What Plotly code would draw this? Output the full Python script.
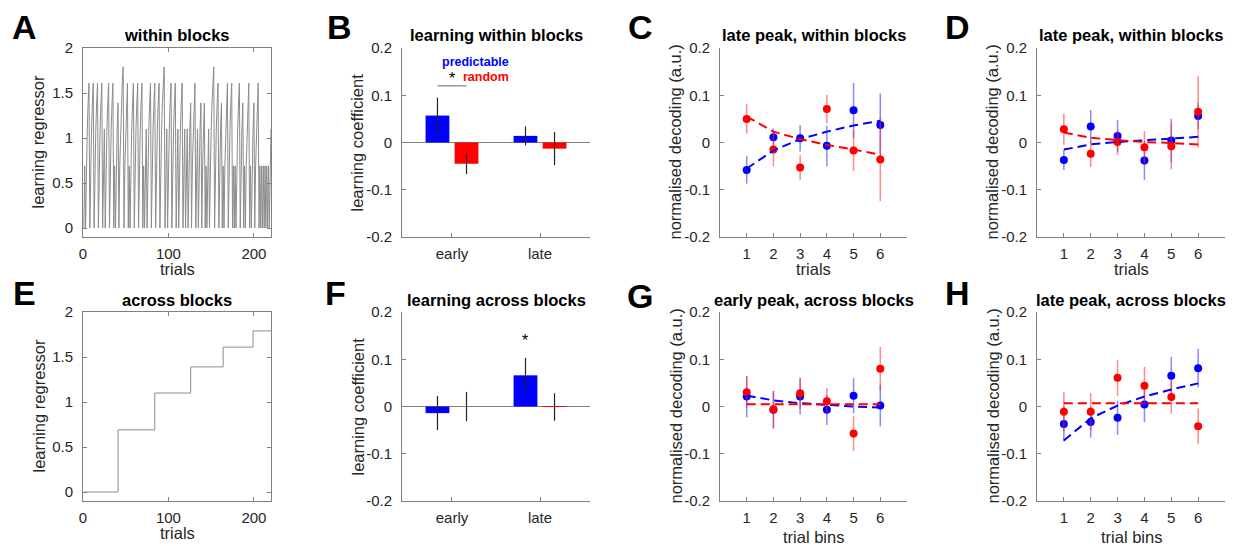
import plotly.graph_objects as go

W, H = 1233, 546
FONT = "Liberation Sans, Arial, sans-serif"
TXT = "#262626"
AXC = "#808080"
BLUE = "#0000FF"
RED = "#FF0000"
BLUE_E = "rgba(40,40,255,0.55)"
RED_E = "rgba(255,40,40,0.55)"

# ---------------- data ----------------
# Panel A: within-block learning regressor (level per position in mini-block, mini-block lengths)
levels = [0.0, 0.69, 1.10, 1.39, 1.61, 1.79]
run_lengths = [2, 5, 5, 5, 5, 3, 5, 5, 2, 4, 6, 5, 2, 5, 5, 5, 2, 3, 5, 5, 5, 6, 3, 5, 5, 3,
               5, 3, 3, 4, 5, 3, 4, 4, 2, 3, 6, 5, 4, 2, 5, 5, 2, 2, 5, 4, 2, 5, 2, 4, 5, 2,
               2, 2, 2, 2, 2, 3]
# Panel E: across-block regressor (block start trials)
block_starts = [1, 41, 84, 126, 164, 199]
last_trial = 220

# Panels B / F: learning coefficients
conds = ["early", "late"]
B_pred = [0.057, 0.014]
B_pred_sem = [0.038, 0.020]
B_rand = [-0.045, -0.013]
B_rand_sem = [0.022, 0.035]
F_pred = [-0.014, 0.066]
F_pred_sem = [0.036, 0.037]
F_rand = [0.0, -0.001]
F_rand_sem = [0.031, 0.029]

# Panels C, D, G, H: normalised decoding per bin
bins = [1, 2, 3, 4, 5, 6]
C_pred = [-0.058, 0.011, 0.009, -0.007, 0.068, 0.037]
C_pred_sem = [0.029, 0.019, 0.028, 0.043, 0.058, 0.067]
C_rand = [0.050, -0.015, -0.053, 0.071, -0.017, -0.036]
C_rand_sem = [0.031, 0.036, 0.026, 0.030, 0.043, 0.088]
C_pred_fit = [-0.055, -0.017, 0.007, 0.023, 0.036, 0.046]
C_rand_fit = [0.055, 0.023, 0.007, -0.005, -0.015, -0.026]

D_pred = [-0.037, 0.034, 0.014, -0.038, 0.004, 0.056]
D_pred_sem = [0.021, 0.035, 0.034, 0.041, 0.046, 0.028]
D_rand = [0.028, -0.024, 0.001, -0.010, -0.008, 0.065]
D_rand_sem = [0.033, 0.028, 0.027, 0.034, 0.049, 0.076]
D_pred_fit = [-0.015, -0.004, 0.001, 0.005, 0.008, 0.012]
D_rand_fit = [0.021, 0.010, 0.005, 0.001, -0.001, -0.004]

G_pred = [0.021, -0.007, 0.021, -0.007, 0.023, 0.002]
G_pred_sem = [0.044, 0.040, 0.038, 0.032, 0.037, 0.044]
G_rand = [0.030, -0.006, 0.028, 0.011, -0.057, 0.080]
G_rand_sem = [0.033, 0.039, 0.033, 0.028, 0.037, 0.046]
G_pred_fit = [0.023, 0.013, 0.007, 0.003, 0.000, -0.002]
G_rand_fit = [0.005, 0.005, 0.005, 0.005, 0.005, 0.005]

H_pred = [-0.037, -0.033, -0.024, 0.004, 0.065, 0.081]
H_pred_sem = [0.037, 0.033, 0.036, 0.037, 0.040, 0.041]
H_rand = [-0.011, -0.011, 0.061, 0.044, 0.020, -0.042]
H_rand_sem = [0.041, 0.039, 0.038, 0.040, 0.035, 0.038]
H_pred_fit = [-0.072, -0.025, 0.002, 0.021, 0.036, 0.049]
H_rand_fit = [0.007, 0.007, 0.007, 0.007, 0.007, 0.007]

coef_ticks = [-0.2, -0.1, 0, 0.1, 0.2]
coef_ticktext = ["-0.2", "-0.1", "0", "0.1", "0.2"]
reg_ticks = [0, 0.5, 1, 1.5, 2]
reg_ticktext = ["0", "0.5", "1", "1.5", "2"]
trial_ticks = [0, 100, 200]

# ---------------- derived series ----------------
within = []
for k in run_lengths:
    within += levels[:k]
trials = list(range(1, len(within) + 1))
across_x = block_starts + [last_trial]
across_y = levels + [levels[-1]]

# ---------------- layout geometry (pixels) ----------------
cols = [(83, 271), (402, 590), (720, 907), (1037, 1225)]
rows = [(48, 237), (312, 501)]


def xd(c):
    return [cols[c][0] / W, cols[c][1] / W]


def yd(r):
    return [1 - rows[r][1] / H, 1 - rows[r][0] / H]


fig = go.Figure()

panels = {1: (0, 0), 2: (0, 1), 3: (0, 2), 4: (0, 3), 5: (1, 0), 6: (1, 1), 7: (1, 2), 8: (1, 3)}


def axname(i, a):
    return a if i == 1 else f"{a}{i}"


base_font = dict(family=FONT, size=15, color=TXT)

for i, (r, c) in panels.items():
    box = c == 0
    xa = dict(domain=xd(c), anchor=axname(i, "y"), showline=True, linecolor=AXC, linewidth=1,
              ticks="inside", ticklen=4, tickcolor=AXC, showgrid=False, zeroline=False,
              tickfont=base_font, mirror="ticks" if box else False, ticklabelstandoff=3,
              automargin=False)
    ya = dict(domain=yd(r), anchor=axname(i, "x"), showline=True, linecolor=AXC, linewidth=1,
              ticks="inside", ticklen=4, tickcolor=AXC, showgrid=False, zeroline=False,
              tickfont=base_font, mirror="ticks" if box else False, ticklabelstandoff=6,
              automargin=False)
    if c == 0:
        xa.update(range=[0, 220], tickvals=trial_ticks)
        ya.update(range=[-0.1, 2], tickvals=reg_ticks, ticktext=reg_ticktext)
    elif c == 1:
        xa.update(range=[0.432, 2.568], tickvals=[1, 2], ticktext=conds)
        ya.update(range=[-0.2, 0.2], tickvals=coef_ticks, ticktext=coef_ticktext,
                  zeroline=True, zerolinecolor=AXC, zerolinewidth=1)
    else:
        xa.update(range=[0, 7], tickvals=bins)
        ya.update(range=[-0.2, 0.2], tickvals=coef_ticks, ticktext=coef_ticktext)
    fig.layout[axname(i, "xaxis")] = xa
    fig.layout[axname(i, "yaxis")] = ya


def ref(i):
    return dict(xaxis=axname(i, "x"), yaxis=axname(i, "y"))


# A
fig.add_trace(go.Scatter(x=trials, y=within, mode="lines", line=dict(color="#8c8c8c", width=1),
                         **ref(1)))
# E
fig.add_trace(go.Scatter(x=across_x, y=across_y, mode="lines", line=dict(color="#8c8c8c", width=1, shape="hv"),
                         **ref(5)))

# B, F bars
for i, pred, psem, rand, rsem in [(2, B_pred, B_pred_sem, B_rand, B_rand_sem),
                                  (6, F_pred, F_pred_sem, F_rand, F_rand_sem)]:
    fig.add_trace(go.Bar(x=[1, 2], y=pred, marker=dict(color=BLUE, line=dict(width=0)),
                         error_y=dict(type="data", array=psem, color="#222222", thickness=1.2, width=0),
                         **ref(i)))
    fig.add_trace(go.Bar(x=[1, 2], y=rand, marker=dict(color=RED, line=dict(width=0)),
                         error_y=dict(type="data", array=rsem, color="#222222", thickness=1.2, width=0),
                         **ref(i)))

# decoding panels
for i, pred, psem, rand, rsem, pfit, rfit in [
        (3, C_pred, C_pred_sem, C_rand, C_rand_sem, C_pred_fit, C_rand_fit),
        (4, D_pred, D_pred_sem, D_rand, D_rand_sem, D_pred_fit, D_rand_fit),
        (7, G_pred, G_pred_sem, G_rand, G_rand_sem, G_pred_fit, G_rand_fit),
        (8, H_pred, H_pred_sem, H_rand, H_rand_sem, H_pred_fit, H_rand_fit)]:
    fig.add_trace(go.Scatter(x=bins, y=pred, mode="markers", marker=dict(color=BLUE, size=8),
                             error_y=dict(type="data", array=psem, color=BLUE_E, thickness=1.5, width=0),
                             **ref(i)))
    fig.add_trace(go.Scatter(x=bins, y=rand, mode="markers", marker=dict(color=RED, size=8),
                             error_y=dict(type="data", array=rsem, color=RED_E, thickness=1.5, width=0),
                             **ref(i)))
    fig.add_trace(go.Scatter(x=bins, y=pfit, mode="lines",
                             line=dict(color=BLUE, width=2, dash="9px,5px"), **ref(i)))
    fig.add_trace(go.Scatter(x=bins, y=rfit, mode="lines",
                             line=dict(color=RED, width=2, dash="9px,5px"), **ref(i)))

# ---------------- annotations ----------------
ann = []


def pa(text, x, y, size=15, color=TXT, angle=0, xanchor="center", yanchor="middle"):
    ann.append(dict(text=text, x=x / W, y=1 - y / H, xref="paper", yref="paper", showarrow=False,
                    font=dict(family=FONT, size=size, color=color), textangle=angle,
                    xanchor=xanchor, yanchor=yanchor))


letters = [("A", 25, 27), ("B", 339, 27), ("C", 640, 27), ("D", 957, 27),
           ("E", 25, 293), ("F", 335, 293), ("G", 640, 296), ("H", 957, 293)]
for t, x, y in letters:
    pa(f"<b>{t}</b>", x, y, size=34, color="#000000")

titles = ["within blocks", "learning within blocks", "late peak, within blocks", "late peak, within blocks",
          "across blocks", "learning across blocks", "early peak, across blocks", "late peak, across blocks"]
for i, t in enumerate(titles):
    r, c = divmod(i, 4)
    cx = (cols[c][0] + cols[c][1]) / 2
    ty = 35 if r == 0 else 300
    pa(f"<b>{t}</b>", cx, ty, size=16.5, color="#000000")

ylabels = ["learning regressor", "learning coefficient", "normalised decoding (a.u.)", "normalised decoding (a.u.)"]
for r in range(2):
    for c in range(4):
        cy = (rows[r][0] + rows[r][1]) / 2
        pa(ylabels[c], cols[c][0] - 45, cy, size=16.5, angle=-90)

# x-axis titles: (row, col) -> (text, offset below axis in px)
xlabels = {(0, 0): ("trials", 32), (0, 2): ("trials", 32), (0, 3): ("trials", 32),
           (1, 0): ("trials", 32), (1, 2): ("trial bins", 36), (1, 3): ("trial bins", 36)}
for (r, c), (t, off) in xlabels.items():
    cx = (cols[c][0] + cols[c][1]) / 2
    pa(t, cx, rows[r][1] + off, size=16.5)

# significance marks
fig.add_shape(type="line", x0=1 - 0.165, x1=1 + 0.165, y0=0.12, y1=0.12, xref="x2", yref="y2",
              line=dict(color="#808080", width=1.2))
ann.append(dict(text="*", x=1, y=0.136, xref="x2", yref="y2", showarrow=False,
                font=dict(family=FONT, size=16, color="#000000"), yanchor="middle"))
ann.append(dict(text="<b>predictable</b>", x=1.67, y=0.171, xref="x2", yref="y2", showarrow=False,
                font=dict(family=FONT, size=12.5, color=BLUE), xanchor="right", yanchor="middle"))
ann.append(dict(text="<b>random</b>", x=1.67, y=0.138, xref="x2", yref="y2", showarrow=False,
                font=dict(family=FONT, size=12.5, color=RED), xanchor="right", yanchor="middle"))
ann.append(dict(text="*", x=2 - 0.165, y=0.14, xref="x6", yref="y6", showarrow=False,
                font=dict(family=FONT, size=16, color="#000000"), yanchor="middle"))

fig.update_layout(template="none", width=W, height=H,
                  margin=dict(l=0, r=0, t=0, b=0, pad=0, autoexpand=False), showlegend=False,
                  paper_bgcolor="white", plot_bgcolor="white", annotations=ann,
                  barmode="group", bargap=0.34, bargroupgap=0.18,
                  font=dict(family=FONT, color=TXT))

fig.write_html("out.html", config={"displayModeBar": False},
               post_script="document.body.style.margin='0';document.body.style.padding='0';"
                           "document.body.style.overflow='hidden';")
